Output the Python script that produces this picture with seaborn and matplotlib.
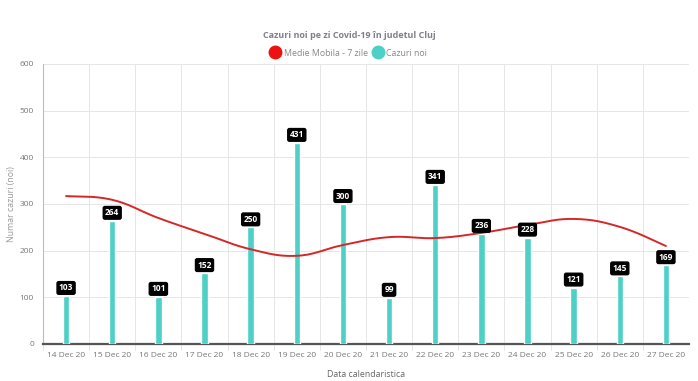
import numpy as np
import pandas as pd
import matplotlib
matplotlib.use("Agg")
import matplotlib.pyplot as plt
import seaborn as sns
from matplotlib.lines import Line2D

dates = ["14 Dec 20", "15 Dec 20", "16 Dec 20", "17 Dec 20", "18 Dec 20", "19 Dec 20",
         "20 Dec 20", "21 Dec 20", "22 Dec 20", "23 Dec 20", "24 Dec 20", "25 Dec 20",
         "26 Dec 20", "27 Dec 20"]
cazuri_noi = [103, 264, 101, 152, 250, 431, 300, 99, 341, 236, 228, 121, 145, 169]
medie_mobila = [317, 309, 270, 236, 203, 189, 212, 229, 227, 238, 255, 268, 251, 210]

title = "Cazuri noi pe zi Covid-19 în judetul Cluj"
ylab = "Numar cazuri (noi)"
xlab = "Data calendaristica"

sns.set_style("white")
plt.rcParams['font.family'] = ['Open Sans', 'DejaVu Sans']

fig = plt.figure(figsize=(6.98, 3.81), dpi=100)
ax = fig.add_axes([43/698, 1-344/381, 646/698, 280/381])

df = pd.DataFrame({"date": dates, "cases": cazuri_noi})
sns.barplot(data=df, x="date", y="cases", color="#4dd0c6", saturation=1, width=0.14, ax=ax, zorder=3)

# smooth line (cardinal spline rendering of the moving average points)
x = np.arange(len(medie_mobila), dtype=float)
y = np.array(medie_mobila, dtype=float)
xs, ys = [], []
t = 0.4
n = len(x)
for i in range(n - 1):
    p0 = np.array([x[max(i-1, 0)], y[max(i-1, 0)]])
    p1 = np.array([x[i], y[i]])
    p2 = np.array([x[i+1], y[i+1]])
    p3 = np.array([x[min(i+2, n-1)], y[min(i+2, n-1)]])
    c1 = p1 + (p2 - p0) * t / 2
    c2 = p2 - (p3 - p1) * t / 2
    s = np.linspace(0, 1, 30)[:, None]
    pts = (1-s)**3*p1 + 3*(1-s)**2*s*c1 + 3*(1-s)*s**2*c2 + s**3*p2
    xs.extend(pts[:, 0]); ys.extend(pts[:, 1])
sns.lineplot(x=xs, y=ys, color="#d62728", linewidth=1.4, ax=ax, zorder=4, sort=False)

# value labels
for i, v in enumerate(cazuri_noi):
    ax.annotate(str(v), (i, v), xytext=(0, 2.5), textcoords="offset points",
                ha="center", va="bottom", fontsize=6, fontweight="bold", color="white",
                bbox=dict(boxstyle="round,pad=0.22,rounding_size=0.2", fc="black", ec="black"),
                zorder=6)

ax.set_ylim(0, 600)
ax.set_xlim(-0.5, len(dates) - 0.5)
ax.set_yticks(range(0, 601, 100))
ax.set_xticks(range(len(dates)))
ax.set_xticklabels(dates)
ax.tick_params(axis="both", labelsize=6, colors="#888888", length=3, width=0.6)
ax.tick_params(axis="x", length=0, pad=6)
for lbl in ax.get_xticklabels() + ax.get_yticklabels():
    lbl.set_color("#777777")
ax.grid(False)
for yv in range(100, 601, 100):
    ax.axhline(yv, color="#e6e6e6", linewidth=0.7, zorder=0)
for xb in np.arange(0.5, len(dates) - 0.5, 1):
    ax.axvline(xb, color="#e6e6e6", linewidth=0.7, zorder=0)
    ax.plot([xb, xb], [0, -0.02], transform=ax.get_xaxis_transform(), color="#e6e6e6",
            linewidth=0.7, clip_on=False)
ax.plot([-0.5, -0.5], [0, -0.02], transform=ax.get_xaxis_transform(), color="#e6e6e6",
        linewidth=0.7, clip_on=False)

for side in ["top", "right"]:
    ax.spines[side].set_visible(False)
ax.spines["left"].set_color("#bbbbbb")
ax.spines["left"].set_linewidth(0.8)
ax.spines["bottom"].set_color("#555555")
ax.spines["bottom"].set_linewidth(1.6)

ax.set_xlabel(xlab, fontsize=6.3, color="#666666", labelpad=8)
ax.set_ylabel(ylab, fontsize=6.3, color="#999999", labelpad=2)
ax.yaxis.set_label_coords(-0.042, 0.5)

fig.text(0.5, 1-35/381, title, ha="center", va="center", fontsize=6.5, fontweight="bold",
         color="#80808a")

# legend
handles = [Line2D([], [], marker="o", linestyle="none", markersize=9, color="#ee1111"),
           Line2D([], [], marker="o", linestyle="none", markersize=9, color="#4dd0c6")]
leg = fig.legend(handles, ["Medie Mobila - 7 zile", "Cazuri noi"], loc="center",
                 bbox_to_anchor=(0.5, 1-53/381), ncol=2, frameon=False, fontsize=6.3,
                 handletextpad=0.5, columnspacing=0.6, handlelength=1.0)
for t_ in leg.get_texts():
    t_.set_color("#888888")

fig.savefig("out.png", dpi=100)
